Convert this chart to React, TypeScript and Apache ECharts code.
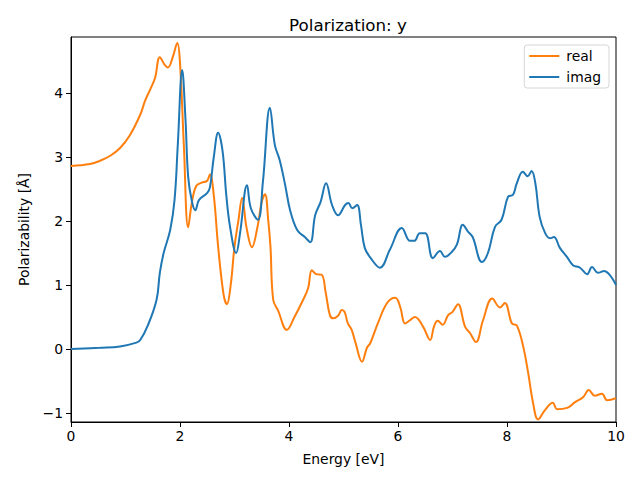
import React, { useEffect, useRef } from "react";
import * as echarts from "echarts";

const titleText = "Polarization: y";
const xTicks = [0, 2, 4, 6, 8, 10];
const yTicks = [-1, 0, 1, 2, 3, 4];

const realX = [0, 0.35, 0.53, 0.72, 0.9, 1.08, 1.27, 1.36, 1.45, 1.54, 1.63, 1.72, 1.78, 1.87, 1.95, 2.0, 2.07, 2.15, 2.22, 2.3, 2.4, 2.5, 2.55, 2.62, 2.7, 2.8, 2.86, 2.93, 3.0, 3.07, 3.14, 3.22, 3.32, 3.42, 3.5, 3.56, 3.62, 3.66, 3.71, 3.8, 3.96, 4.1, 4.26, 4.35, 4.42, 4.5, 4.6, 4.67, 4.75, 4.81, 4.9, 4.97, 5.02, 5.08, 5.15, 5.22, 5.34, 5.43, 5.49, 5.63, 5.8, 5.95, 6.04, 6.13, 6.22, 6.31, 6.46, 6.59, 6.66, 6.73, 6.82, 6.92, 7.0, 7.1, 7.23, 7.32, 7.43, 7.56, 7.73, 7.87, 7.96, 8.09, 8.18, 8.3, 8.39, 8.48, 8.57, 8.7, 8.84, 8.92, 9.1, 9.25, 9.4, 9.5, 9.61, 9.74, 9.84, 10];
const realY = [2.86, 2.89, 2.94, 3.02, 3.14, 3.34, 3.66, 3.88, 4.05, 4.23, 4.56, 4.44, 4.4, 4.57, 4.78, 4.47, 3.2, 1.9, 2.3, 2.55, 2.6, 2.63, 2.73, 2.4, 1.6, 0.85, 0.7, 1.0, 1.6, 2.0, 2.36, 1.9, 1.59, 1.9, 2.3, 2.42, 2.0, 1.6, 0.77, 0.6, 0.3, 0.5, 0.77, 0.95, 1.23, 1.17, 1.16, 0.9, 0.53, 0.48, 0.52, 0.61, 0.58, 0.4, 0.3, 0.1, -0.2, 0.02, 0.09, 0.4, 0.72, 0.8, 0.66, 0.4, 0.45, 0.5, 0.35, 0.14, 0.35, 0.44, 0.38, 0.53, 0.58, 0.7, 0.35, 0.25, 0.11, 0.45, 0.79, 0.65, 0.72, 0.4, 0.37, 0.03, -0.38, -0.85, -1.1, -0.95, -0.84, -0.94, -0.92, -0.83, -0.75, -0.64, -0.73, -0.7, -0.8, -0.77];

const imagX = [0, 0.53, 0.9, 1.2, 1.27, 1.41, 1.57, 1.63, 1.7, 1.82, 1.9, 1.96, 2.04, 2.1, 2.15, 2.22, 2.28, 2.35, 2.5, 2.55, 2.62, 2.7, 2.78, 2.85, 2.92, 3.03, 3.1, 3.23, 3.3, 3.43, 3.52, 3.65, 3.74, 3.83, 3.93, 4.02, 4.15, 4.29, 4.39, 4.48, 4.58, 4.68, 4.79, 4.9, 5.03, 5.09, 5.16, 5.25, 5.32, 5.39, 5.5, 5.67, 5.85, 6.07, 6.22, 6.3, 6.4, 6.5, 6.64, 6.77, 6.86, 6.99, 7.08, 7.19, 7.28, 7.37, 7.54, 7.65, 7.78, 7.9, 8.02, 8.11, 8.18, 8.29, 8.38, 8.45, 8.52, 8.6, 8.7, 8.79, 8.86, 8.97, 9.1, 9.21, 9.34, 9.47, 9.56, 9.67, 9.78, 10];
const imagY = [0, 0.02, 0.04, 0.1, 0.14, 0.37, 0.77, 1.19, 1.5, 1.86, 2.33, 3.2, 4.36, 3.6, 2.69, 2.3, 2.17, 2.33, 2.44, 2.53, 3.0, 3.38, 3.1, 2.4, 1.9, 1.5, 1.8, 2.56, 2.2, 2.02, 2.6, 3.77, 3.19, 2.95, 2.56, 2.17, 1.86, 1.75, 1.67, 2.09, 2.3, 2.59, 2.25, 2.09, 2.25, 2.28, 2.2, 2.25, 1.94, 1.58, 1.42, 1.27, 1.55, 1.89, 1.69, 1.69, 1.81, 1.81, 1.42, 1.53, 1.44, 1.52, 1.63, 1.94, 1.84, 1.75, 1.36, 1.5, 1.91, 2.02, 2.38, 2.41, 2.59, 2.77, 2.7, 2.78, 2.59, 2.06, 1.81, 1.73, 1.75, 1.58, 1.44, 1.31, 1.27, 1.17, 1.28, 1.19, 1.22, 1.0];

const FONT = "DejaVu Sans";

export default function App() {
  const ref = useRef<HTMLDivElement>(null);
  useEffect(() => {
    if (!ref.current) return;
    const chart = echarts.init(ref.current, undefined, { renderer: "svg" });
    const realData = realX.map((x, i) => [x, realY[i]]);
    const imagData = imagX.map((x, i) => [x, imagY[i]]);
    chart.setOption({
      animation: false,
      backgroundColor: "#ffffff",
      textStyle: { fontFamily: FONT },
      title: {
        text: titleText,
        left: 343,
        top: 11,
        textAlign: "center",
        textStyle: { fontFamily: FONT, fontSize: 16.7, fontWeight: "normal", color: "#000" },
      },
      grid: {
        left: 71,
        right: 24,
        top: 37,
        bottom: 58,
        show: true,
        borderColor: "#000",
        borderWidth: 1,
        backgroundColor: "transparent",
      },
      legend: {
        data: ["real", "imag"],
        orient: "vertical",
        right: 31,
        top: 45,
        padding: [4, 8, 4, 5],
        itemWidth: 30,
        itemHeight: 2,
        itemGap: 7,
        icon: "rect",
        borderColor: "#d6d6d6",
        borderWidth: 1,
        borderRadius: 3,
        backgroundColor: "rgba(255,255,255,0.8)",
        textStyle: { fontFamily: FONT, fontSize: 13.9, color: "#000", padding: [0, 0, 0, 2], lineHeight: 14 },
      },
      xAxis: {
        type: "value",
        min: 0,
        max: 10,
        interval: 2,
        name: "Energy [eV]",
        nameLocation: "middle",
        nameGap: 30,
        nameTextStyle: { fontFamily: FONT, fontSize: 13.9, color: "#000" },
        axisLine: { show: true, onZero: false, lineStyle: { color: "#000", width: 1 } },
        axisTick: { show: true, length: 5, lineStyle: { color: "#000" } },
        axisLabel: {
          fontFamily: FONT,
          fontSize: 13.9,
          color: "#000",
          margin: 7,
          formatter: (v: number) => (xTicks.includes(v) ? String(v) : ""),
        },
        splitLine: { show: false },
      },
      yAxis: {
        type: "value",
        min: -1.14,
        max: 4.875,
        name: "Polarizability [Å]",
        nameLocation: "middle",
        nameGap: 40,
        nameTextStyle: { fontFamily: FONT, fontSize: 13.9, color: "#000" },
        axisLine: { show: true, onZero: false, lineStyle: { color: "#000", width: 1 } },
        axisTick: { show: true, length: 5, lineStyle: { color: "#000" }, customValues: yTicks },
        axisLabel: {
          fontFamily: FONT,
          fontSize: 13.9,
          color: "#000",
          margin: 8,
          customValues: yTicks,
          formatter: (v: number) => (v < 0 ? "\u2212" + Math.abs(v) : String(v)),
        },
        splitLine: { show: false },
      },
      series: [
        {
          name: "real",
          type: "line",
          data: realData,
          showSymbol: false,
          smooth: 0.4,
          color: "#ff7f0e",
          lineStyle: { width: 2, color: "#ff7f0e" },
          z: 2,
        },
        {
          name: "imag",
          type: "line",
          data: imagData,
          showSymbol: false,
          smooth: 0.4,
          color: "#1f77b4",
          lineStyle: { width: 2, color: "#1f77b4" },
          z: 3,
        },
      ],
    });
    return () => chart.dispose();
  }, []);
  return <div ref={ref} style={{ width: 640, height: 480, position: "absolute", left: 0, top: 0 }} />;
}
